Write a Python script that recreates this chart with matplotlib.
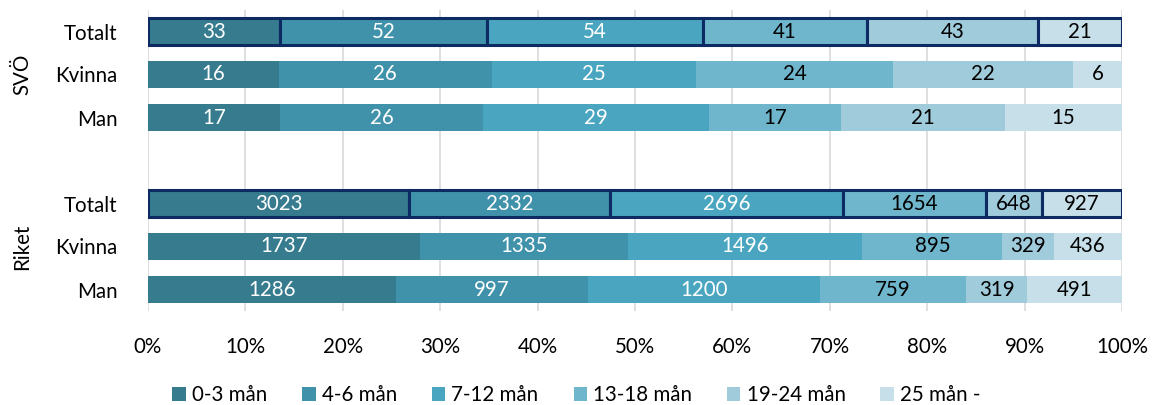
import matplotlib
matplotlib.use("Agg")
import matplotlib.pyplot as plt
import matplotlib.transforms as mtransforms
from matplotlib.patches import Patch
import numpy as np

plt.rcParams['font.family'] = ['Lato', 'DejaVu Sans']

series = ["0-3 mån", "4-6 mån", "7-12 mån", "13-18 mån", "19-24 mån", "25 mån -"]
colors = ["#367B8E", "#4091AA", "#4AA6C0", "#6FB6CD", "#A0CBDB", "#C6DFE8"]
text_colors = ["white", "white", "white", "black", "black", "black"]

row_labels = ["Totalt", "Kvinna", "Man", "", "Totalt", "Kvinna", "Man"]
groups = ["SVÖ", "Riket"]

svo_totalt = [33, 52, 54, 41, 43, 21]
svo_kvinna = [16, 26, 25, 24, 22, 6]
svo_man = [17, 26, 29, 17, 21, 15]
riket_totalt = [3023, 2332, 2696, 1654, 648, 927]
riket_kvinna = [1737, 1335, 1496, 895, 329, 436]
riket_man = [1286, 997, 1200, 759, 319, 491]

rows = [svo_totalt, svo_kvinna, svo_man, None, riket_totalt, riket_kvinna, riket_man]
is_total = [True, False, False, False, True, False, False]

FS = 14.8

fig = plt.figure(figsize=(11.53, 4.05), dpi=100)
ax = fig.add_axes([148/1153, 1-311/405, 974/1153, 301/405])

height = 0.65
for i, vals in enumerate(rows):
    if vals is None:
        continue
    tot = float(sum(vals))
    left = 0.0
    for j, v in enumerate(vals):
        w = v / tot
        if is_total[i]:
            ax.barh(i, w, left=left, height=height, color=colors[j],
                    edgecolor="#0D2B62", linewidth=2.2, zorder=3)
        else:
            ax.barh(i, w, left=left, height=height, color=colors[j],
                    edgecolor="none", zorder=3)
        ax.text(left + w/2, i, str(v), ha="center", va="center",
                color=text_colors[j], fontsize=FS, zorder=4)
        left += w

ax.set_ylim(6.5, -0.5)
ax.set_xlim(0, 1)
ax.set_yticks(range(len(row_labels)))
ax.set_yticklabels(row_labels, fontsize=FS)
ticks = np.arange(0, 1.01, 0.1)
ax.set_xticks(ticks)
ax.set_xticklabels([f"{int(round(t*100))}%" for t in ticks], fontsize=FS)
ax.tick_params(axis="y", length=0, pad=22)
ax.tick_params(axis="x", length=0, pad=19)
for s in ax.spines.values():
    s.set_visible(False)
ax.grid(axis="x", color="#D9D9D9", linewidth=1.2, zorder=0)
ax.set_axisbelow(True)

trans = mtransforms.blended_transform_factory(ax.transAxes, ax.transData)
ax.text(-0.129, 1, groups[0], rotation=90, ha="center", va="center",
        transform=trans, fontsize=FS)
ax.text(-0.129, 5, groups[1], rotation=90, ha="center", va="center",
        transform=trans, fontsize=FS)

handles = [Patch(facecolor=c, edgecolor="none") for c in colors]
fig.legend(handles, series, loc="center", bbox_to_anchor=(0.5, 1-395/405),
           ncol=6, frameon=False, fontsize=FS, handlelength=0.65,
           handleheight=0.65, handletextpad=0.3, columnspacing=1.7)

fig.savefig("out.png", dpi=100)
